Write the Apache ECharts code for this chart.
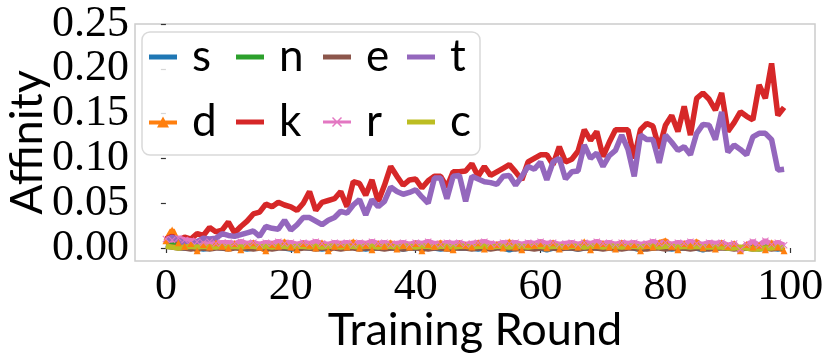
<!DOCTYPE html>
<html>
<head>
<meta charset="utf-8">
<script src="https://cdn.jsdelivr.net/npm/echarts@6/dist/echarts.min.js"></script>
<style>
  html, body { margin: 0; padding: 0; background: #fff; }
  #chart { width: 831px; height: 363px; }
</style>
</head>
<body>
<div id="chart"></div>
<script>
  // affinity per training round
  const sVals = [0.004,0.003,0.001,0.000,0.001,0.000,-0.001,0.000,0.001,0.000,
    0.000,0.001,0.000,-0.001,0.000,0.001,0.000,0.000,0.001,0.000,
    -0.001,0.000,0.001,0.000,0.000,-0.001,0.000,0.001,0.000,0.000,
    0.001,0.000,-0.001,0.000,0.000,0.001,0.000,0.000,-0.001,0.000,
    0.000,0.001,0.000,0.000,-0.001,0.000,0.001,0.000,0.000,0.000,
    -0.001,0.000,0.000,0.001,0.000,-0.002,0.000,0.001,0.000,0.000,
    0.000,-0.002,0.000,0.001,0.000,0.000,-0.001,0.000,0.001,0.000,
    0.000,0.000,-0.001,0.000,0.001,0.000,-0.002,0.000,0.000,0.001,
    0.000,-0.001,0.000,0.000,0.001,0.000,-0.002,0.000,0.000,0.001,
    0.000,0.000,-0.001,0.000,0.000,-0.001,0.000,0.000,-0.001,0.000];
  const dVals = [0.008,0.020,0.006,0.002,0.005,-0.003,0.004,0.001,0.006,0.002,
    0.000,0.005,-0.002,0.003,0.006,0.001,-0.003,0.004,0.002,0.007,
    0.001,-0.002,0.005,0.003,0.000,0.006,-0.003,0.002,0.004,0.001,
    0.007,0.000,0.003,-0.002,0.005,0.002,0.006,-0.001,0.003,0.001,
    0.005,-0.003,0.004,0.002,0.006,0.000,-0.002,0.005,0.003,0.001,
    0.006,-0.001,0.002,0.004,0.000,0.007,0.001,-0.002,0.004,0.003,
    0.005,0.000,0.006,-0.001,0.002,0.004,0.001,0.007,-0.002,0.003,
    0.005,0.001,-0.001,0.006,0.002,0.004,-0.003,0.003,0.001,0.006,
    0.008,0.002,-0.002,0.005,0.003,0.007,0.000,0.004,-0.001,0.006,
    0.002,0.005,-0.003,0.004,0.001,0.003,-0.002,0.006,0.001,-0.003];
  const nVals = [0.005,0.006,0.004,0.001,0.001,0.002,0.001,0.001,0.002,0.001,
    0.001,0.002,0.001,0.001,0.001,0.002,0.001,0.001,0.002,0.001,
    0.001,0.001,0.002,0.001,0.001,0.002,0.001,0.001,0.001,0.002,
    0.001,0.002,0.001,0.001,0.001,0.002,0.001,0.001,0.002,0.001,
    0.001,0.001,0.002,0.001,0.002,0.001,0.001,0.001,0.002,0.001,
    0.001,0.002,0.001,0.001,0.001,0.002,0.001,0.001,0.002,0.001,
    0.001,0.001,0.002,0.001,0.001,0.002,0.001,0.001,0.001,0.002,
    0.001,0.002,0.001,0.001,0.001,0.002,0.001,0.001,0.002,0.001,
    0.001,0.001,0.002,0.001,0.001,0.002,0.001,0.001,0.001,0.001,
    0.000,0.001,0.000,0.001,0.001,0.000,0.001,0.001,0.000,0.001];
  const kVals = [0.010,0.013,0.008,0.012,0.010,0.016,0.014,0.023,0.018,0.020,
    0.029,0.017,0.024,0.030,0.038,0.040,0.049,0.046,0.051,0.048,
    0.046,0.042,0.050,0.063,0.042,0.051,0.053,0.055,0.063,0.046,
    0.074,0.072,0.059,0.076,0.052,0.070,0.091,0.080,0.070,0.076,
    0.077,0.067,0.075,0.080,0.080,0.068,0.085,0.085,0.086,0.094,
    0.080,0.091,0.081,0.085,0.089,0.093,0.085,0.076,0.096,0.100,
    0.104,0.104,0.093,0.113,0.096,0.099,0.108,0.132,0.120,0.130,
    0.102,0.118,0.132,0.132,0.132,0.100,0.132,0.139,0.136,0.111,
    0.137,0.148,0.130,0.158,0.126,0.167,0.173,0.166,0.154,0.173,
    0.130,0.140,0.152,0.147,0.143,0.182,0.167,0.206,0.148,0.157];
  const eVals = [0.002,0.001,0.000,0.000,-0.001,0.000,0.000,-0.001,0.000,0.000,
    -0.001,0.000,0.000,0.000,-0.001,0.000,0.000,-0.001,0.000,0.000,
    0.000,-0.001,0.000,0.000,-0.001,0.000,0.000,0.000,-0.001,0.000,
    0.000,-0.001,0.000,0.000,0.000,-0.001,0.000,0.000,-0.001,0.000,
    0.000,0.000,-0.001,0.000,0.000,-0.001,0.000,0.000,0.000,-0.001,
    0.000,0.000,-0.001,0.000,0.000,0.000,-0.001,0.000,0.000,-0.001,
    0.000,0.000,0.000,-0.001,0.000,0.000,-0.001,0.000,0.000,0.000,
    -0.001,0.000,0.000,-0.001,0.000,0.000,0.000,-0.001,0.000,0.000,
    -0.001,0.000,0.000,0.000,-0.001,0.000,0.000,-0.001,0.000,0.000,
    0.000,-0.001,0.000,0.000,-0.001,0.000,0.000,-0.001,0.000,0.000];
  const rVals = [0.010,0.009,0.011,0.009,0.008,0.007,0.006,0.007,0.005,0.006,
    0.006,0.005,0.007,0.005,0.006,0.004,0.006,0.005,0.007,0.005,
    0.006,0.004,0.006,0.005,0.007,0.005,0.004,0.006,0.005,0.006,
    0.004,0.006,0.005,0.007,0.005,0.006,0.004,0.005,0.006,0.004,
    0.006,0.005,0.007,0.005,0.004,0.006,0.005,0.006,0.004,0.005,
    0.006,0.007,0.005,0.004,0.006,0.005,0.006,0.004,0.006,0.005,
    0.007,0.005,0.006,0.004,0.005,0.006,0.004,0.006,0.005,0.007,
    0.005,0.006,0.004,0.006,0.005,0.006,0.004,0.005,0.007,0.005,
    0.006,0.004,0.006,0.005,0.007,0.005,0.004,0.006,0.005,0.006,
    0.003,0.005,-0.002,0.004,0.007,0.003,0.008,0.004,0.006,0.003];
  const tVals = [0.008,0.012,0.009,0.005,0.003,0.007,0.011,0.010,0.011,0.016,
    0.014,0.013,0.015,0.017,0.019,0.013,0.024,0.022,0.021,0.031,
    0.020,0.026,0.034,0.034,0.030,0.026,0.031,0.034,0.041,0.039,
    0.048,0.054,0.037,0.054,0.046,0.052,0.068,0.063,0.060,0.062,
    0.065,0.057,0.050,0.078,0.078,0.055,0.080,0.081,0.052,0.080,
    0.077,0.074,0.073,0.071,0.080,0.081,0.070,0.080,0.091,0.088,
    0.096,0.076,0.096,0.100,0.077,0.085,0.086,0.115,0.100,0.106,
    0.091,0.103,0.109,0.126,0.110,0.080,0.126,0.121,0.121,0.095,
    0.126,0.118,0.109,0.113,0.104,0.128,0.138,0.137,0.121,0.152,
    0.107,0.115,0.110,0.104,0.124,0.128,0.128,0.121,0.087,0.088];
  const cVals = [0.002,0.001,0.000,0.001,0.002,0.001,0.002,0.001,0.001,0.002,
    0.001,0.002,0.001,0.002,0.002,0.001,0.002,0.001,0.002,0.002,
    0.001,0.002,0.002,0.001,0.002,0.001,0.002,0.002,0.001,0.002,
    0.002,0.001,0.002,0.002,0.001,0.002,0.002,0.001,0.002,0.002,
    0.001,0.002,0.002,0.001,0.002,0.002,0.001,0.002,0.002,0.001,
    0.002,0.002,0.001,0.002,0.002,0.001,0.002,0.002,0.001,0.002,
    0.002,0.001,0.002,0.002,0.001,0.002,0.002,0.001,0.002,0.002,
    0.001,0.002,0.002,0.001,0.002,0.002,0.001,0.002,0.002,0.001,
    0.002,0.002,0.001,0.002,0.001,0.002,0.001,0.001,0.001,0.001,
    0.000,0.000,0.001,0.000,-0.001,-0.001,0.000,0.000,0.001,0.000];

  const xTicks = [0, 20, 40, 60, 80, 100];
  const yTicks = [0, 0.05, 0.10, 0.15, 0.20, 0.25];

  const serif = '"Liberation Serif", serif';
  const sans = 'Lato, sans-serif';
  const xMark = 'path://M0,1L1,0L5,4L9,0L10,1L6,5L10,9L9,10L5,6L1,10L0,9L4,5Z';
  // legend icons: line with marker on it
  const triIcon = 'path://M0,4L28,4L28,8L0,8Z M14,0L20,11L8,11Z';
  const xIcon = 'path://M0,4.5L28,4.5L28,7.5L0,7.5Z M9,2L10,1L14,5L18,1L19,2L15,6L19,10L18,11L14,7L10,11L9,10L13,6Z';

  function pts(vals) {
    return vals.map((v, i) => [i, v]);
  }

  function mkSeries(name, vals, color, symbol) {
    return {
      name: name,
      type: 'line',
      data: pts(vals),
      symbol: symbol || 'none',
      symbolSize: 7,
      showSymbol: !!symbol,
      lineStyle: {color: color, width: 5.5},
      itemStyle: {color: color},
      emphasis: {disabled: true}
    };
  }

  let chart = echarts.init(document.getElementById('chart'));

  // one legend per item so every entry sits where matplotlib put it
  function legendItem(name, left, top, icon) {
    return {
      data: [{name: name, icon: icon || 'rect'}],
      left: left,
      top: top,
      padding: 0,
      itemWidth: 28,
      itemHeight: icon ? 11 : 5,
      z: 10,
      textStyle: {fontFamily: sans, fontSize: 44, color: '#000', lineHeight: 44, padding: [0, 0, 0, 10]}
    };
  }

  chart.setOption({
    animation: false,
    grid: {
      left: 135, right: 16, top: 24, bottom: 102,
      outerBoundsMode: 'none',
      show: true, borderColor: '#cccccc', borderWidth: 1.5
    },
    graphic: [{
      type: 'rect',
      z: 5,
      shape: {x: 142, y: 32, width: 338, height: 123, r: 8},
      style: {fill: 'rgba(255,255,255,0.8)', stroke: '#d9d9d9', lineWidth: 1.5}
    }],
    legend: [
      legendItem('s', 149, 35),
      legendItem('d', 149, 100, triIcon),
      legendItem('n', 236, 35),
      legendItem('k', 236, 100),
      legendItem('e', 323, 35),
      legendItem('r', 323, 100, xIcon),
      legendItem('t', 407, 35),
      legendItem('c', 407, 100)
    ],
    xAxis: {
      type: 'value',
      min: -4.95,
      max: 103.95,
      name: 'Training Round',
      nameLocation: 'middle',
      nameGap: 47,
      nameMoveOverlap: false,
      nameTextStyle: {fontFamily: sans, fontSize: 45, color: '#000', verticalAlign: 'top'},
      axisLine: {show: false},
      splitLine: {show: false},
      axisTick: {show: true, length: 5, lineStyle: {color: '#333', width: 1.2}, customValues: xTicks},
      axisLabel: {
        fontFamily: serif, fontSize: 44, color: '#000', margin: 4,
        customValues: xTicks, showMinLabel: true, showMaxLabel: true, hideOverlap: false
      }
    },
    yAxis: {
      type: 'value',
      min: -0.0145,
      max: 0.25,
      name: 'Affinity',
      nameLocation: 'middle',
      nameGap: 85,
      nameMoveOverlap: false,
      nameTextStyle: {fontFamily: sans, fontSize: 45, color: '#000'},
      axisLine: {show: false},
      splitLine: {show: false},
      axisTick: {show: true, length: 5, lineStyle: {color: '#333', width: 1.2}, customValues: yTicks},
      axisLabel: {
        fontFamily: serif, fontSize: 44, lineHeight: 40, color: '#000', margin: 6,
        customValues: yTicks, showMinLabel: true, showMaxLabel: true, hideOverlap: false,
        formatter: v => v.toFixed(2)
      }
    },
    series: [
      mkSeries('s', sVals, '#1f77b4'),
      mkSeries('d', dVals, '#ff7f0e', 'triangle'),
      mkSeries('n', nVals, '#2ca02c'),
      mkSeries('k', kVals, '#d62728'),
      mkSeries('e', eVals, '#8c564b'),
      mkSeries('r', rVals, '#e377c2', xMark),
      mkSeries('t', tVals, '#9467bd'),
      mkSeries('c', cVals, '#bcbd22')
    ]
  });
</script>
</body>
</html>
